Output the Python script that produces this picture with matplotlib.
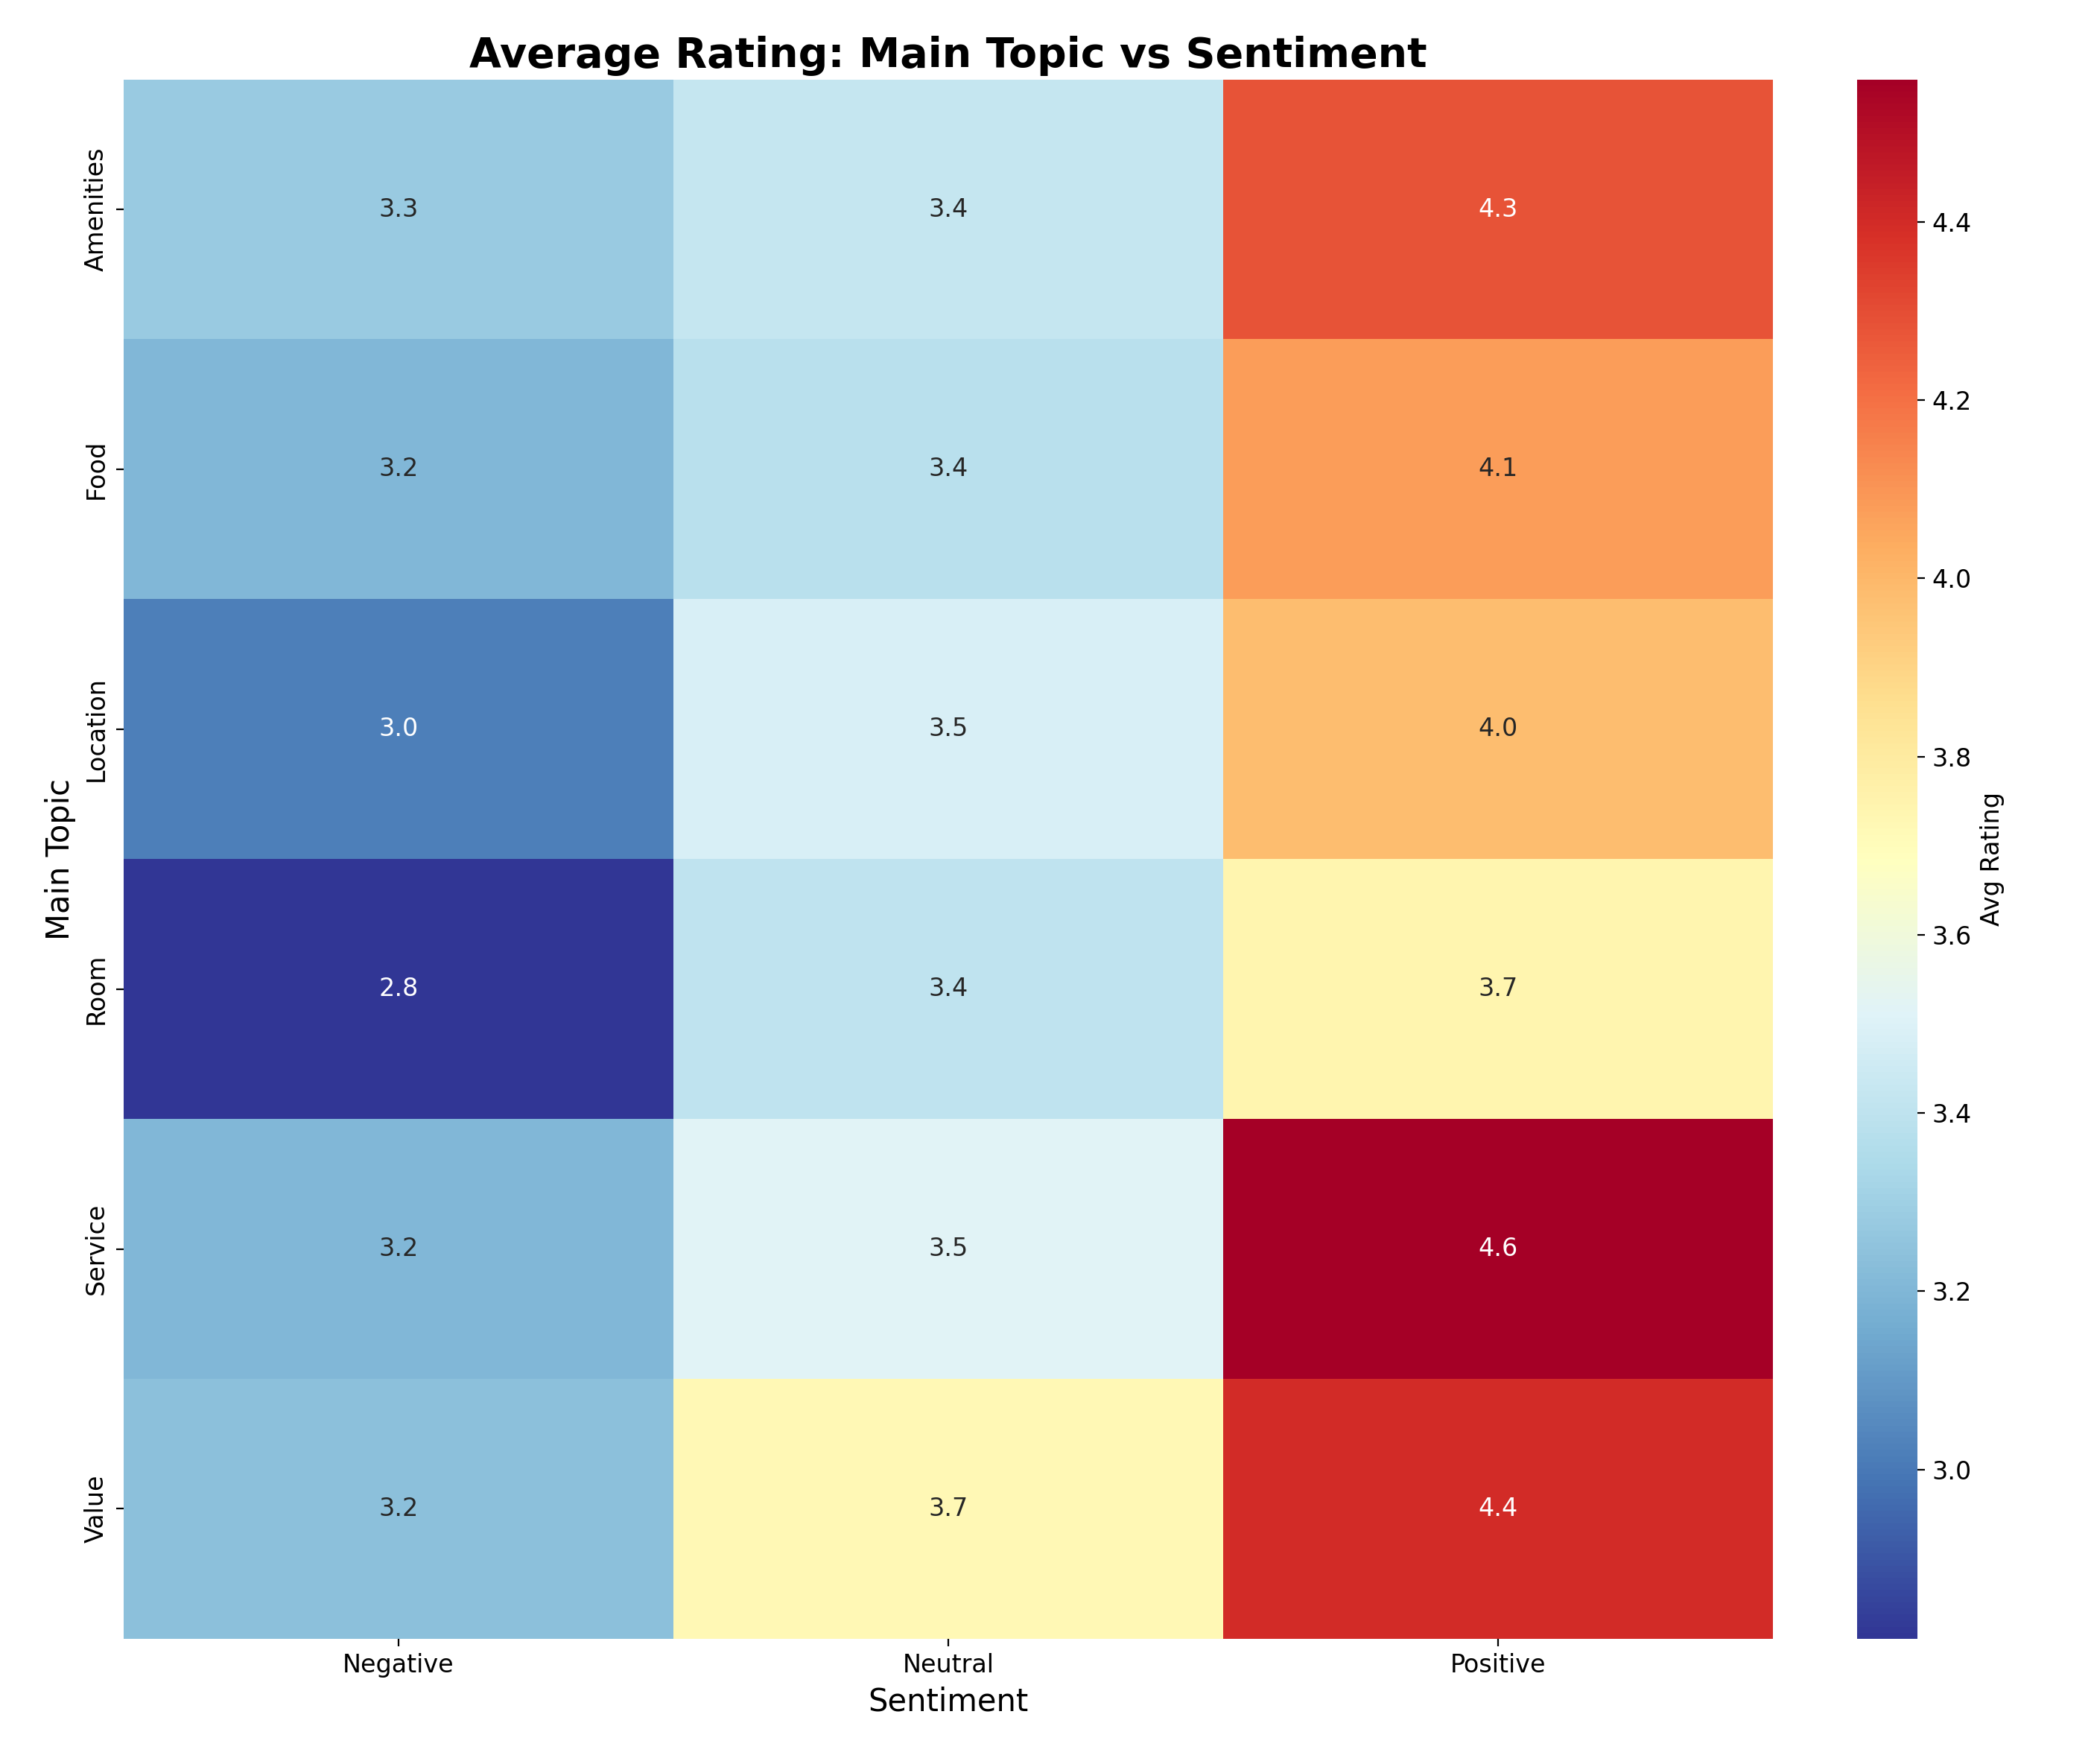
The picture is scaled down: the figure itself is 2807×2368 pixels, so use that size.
import matplotlib
matplotlib.use("Agg")
import matplotlib.pyplot as plt
import seaborn as sns
import pandas as pd
import numpy as np

topics = ["Amenities", "Food", "Location", "Room", "Service", "Value"]
sentiments = ["Negative", "Neutral", "Positive"]
negative = [3.28, 3.20, 3.02, 2.81, 3.20, 3.24]
neutral = [3.42, 3.38, 3.48, 3.40, 3.52, 3.72]
positive = [4.28, 4.08, 3.98, 3.74, 4.56, 4.40]

df = pd.DataFrame({"Negative": negative, "Neutral": neutral, "Positive": positive}, index=topics)

fig = plt.figure(figsize=(14.035, 11.84), dpi=200)
ax = fig.add_axes([0.059, 0.071, 0.789, 0.884])
cax = fig.add_axes([0.888, 0.071, 0.029, 0.884])
sns.heatmap(df, annot=True, fmt=".1f", cmap="RdYlBu_r", ax=ax, cbar_ax=cax,
            cbar_kws={"label": "Avg Rating"}, annot_kws={"size": 12})
ax.set_title("Average Rating: Main Topic vs Sentiment", fontsize=20, fontweight="bold")
ax.set_xlabel("Sentiment", fontsize=15)
ax.set_ylabel("Main Topic", fontsize=15)
ax.tick_params(labelsize=12)
cax.tick_params(labelsize=12)
cax.yaxis.label.set_size(12)
fig.savefig("out.png", dpi=200)
